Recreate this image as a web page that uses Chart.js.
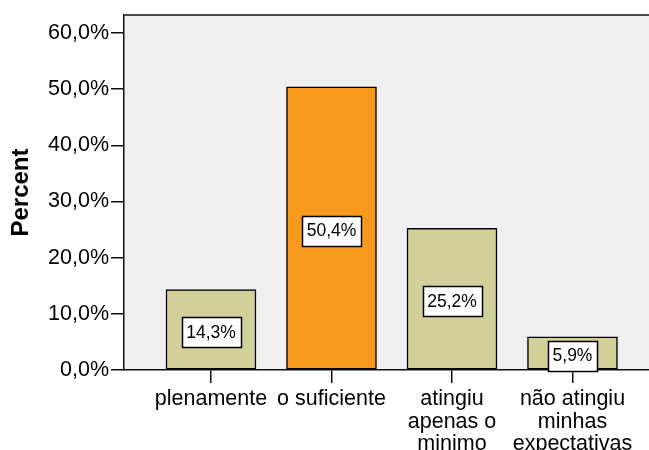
<!DOCTYPE html>
<html>
<head>
<meta charset="utf-8">
<script src="https://cdn.jsdelivr.net/npm/chart.js@4/dist/chart.umd.min.js"></script>
<style>
  body { margin: 0; background: #fff; }
  canvas { display: block; }
</style>
</head>
<body>
<canvas id="myChart" width="649" height="450"></canvas>
<script>
// data
const categories = [
  ["plenamente"],
  ["o suficiente"],
  ["atingiu", "apenas o", "minimo"],
  ["não atingiu", "minhas", "expectativas"],
];
const percents = [14.3, 50.4, 25.2, 5.9];
const yTicks = [0, 10, 20, 30, 40, 50, 60];
const barColors = ["#d3cf99", "#f8991d", "#d3cf99", "#d3cf99"];

const FONT = "'Liberation Sans', Arial, sans-serif";
const fmt = (v) => v.toFixed(1).replace(".", ",") + "%";

// gray plot background + top frame line
const plotBackground = {
  id: "plotBackground",
  beforeDraw(chart) {
    const { ctx, chartArea: a } = chart;
    ctx.save();
    ctx.fillStyle = "#efefef";
    ctx.fillRect(a.left, a.top, a.right - a.left, a.bottom - a.top);
    ctx.strokeStyle = "#111";
    ctx.lineWidth = 1.5;
    ctx.beginPath();
    ctx.moveTo(a.left, a.top);
    ctx.lineTo(a.right, a.top);
    ctx.stroke();
    ctx.restore();
  },
};

// boxed value labels in the middle of each bar
const boxLabels = {
  id: "boxLabels",
  afterDatasetsDraw(chart) {
    const { ctx } = chart;
    const meta = chart.getDatasetMeta(0);
    ctx.save();
    ctx.font = "17.5px " + FONT;
    ctx.textAlign = "center";
    ctx.textBaseline = "middle";
    meta.data.forEach((bar, i) => {
      const text = fmt(percents[i]);
      const w = ctx.measureText(text).width + 9;
      const h = 30;
      const cx = bar.x;
      const cy = (bar.y + bar.base) / 2 + 2.5;
      ctx.fillStyle = "#fff";
      ctx.fillRect(Math.round(cx - w / 2) + 0.5, Math.round(cy - h / 2) + 0.5, Math.round(w), h);
      ctx.strokeStyle = "#000";
      ctx.lineWidth = 1.5;
      ctx.strokeRect(Math.round(cx - w / 2) + 0.5, Math.round(cy - h / 2) + 0.5, Math.round(w), h);
      ctx.fillStyle = "#000";
      ctx.fillText(text, cx, cy + 1);
    });
    ctx.restore();
  },
};

new Chart(document.getElementById("myChart"), {
  type: "bar",
  data: {
    datasets: [
      {
        data: percents.map((v, i) => ({ x: i + 1, y: v })),
        backgroundColor: barColors,
        borderColor: "#000",
        borderWidth: 1.5,
        borderSkipped: false,
        barThickness: 90,
      },
    ],
  },
  options: {
    responsive: false,
    animation: false,
    devicePixelRatio: 1,
    layout: { padding: { top: 15, right: 0, left: 0, bottom: 0 } },
    plugins: { legend: { display: false }, tooltip: { enabled: false } },
    scales: {
      x: {
        type: "linear",
        offset: false,
        min: 0.278,
        max: 4.635,
        afterBuildTicks: (s) => {
          s.ticks = categories.map((c, i) => ({ value: i + 1 }));
        },
        afterFit: (s) => {
          s.height = 80;
        },
        grid: {
          offset: false,
          drawOnChartArea: false,
          drawTicks: true,
          tickLength: 13,
          color: "#111",
          lineWidth: 1.5,
        },
        border: { display: true, color: "#111", width: 1.5 },
        ticks: {
          autoSkip: false,
          maxRotation: 0,
          padding: 5,
          color: "#000",
          font: { family: FONT, size: 21.5, lineHeight: 1.05 },
          callback: (v) => categories[v - 1],
        },
      },
      y: {
        min: 0,
        max: 63.2,
        afterBuildTicks: (s) => {
          s.ticks = yTicks.map((v) => ({ value: v }));
        },
        afterFit: (s) => {
          s.width = 124;
        },
        grid: {
          drawOnChartArea: false,
          drawTicks: true,
          tickLength: 13,
          color: "#111",
          lineWidth: 1.5,
        },
        border: { display: true, color: "#111", width: 1.5 },
        ticks: {
          padding: 2,
          color: "#000",
          font: { family: FONT, size: 21.5 },
          callback: (v) => fmt(v),
        },
        title: {
          display: true,
          text: "Percent",
          color: "#000",
          padding: { top: 7, bottom: 0 },
          font: { family: FONT, size: 24, weight: "bold", lineHeight: 1.2 },
        },
      },
    },
  },
  plugins: [plotBackground, boxLabels],
});
</script>
</body>
</html>
